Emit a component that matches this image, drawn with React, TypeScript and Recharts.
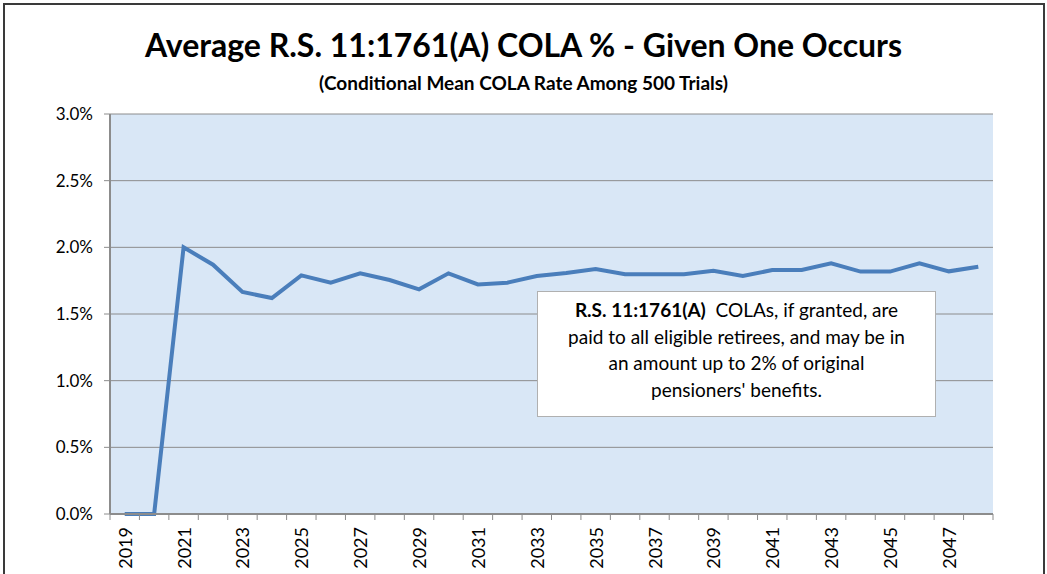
import { LineChart, Line, XAxis, YAxis, CartesianGrid } from 'recharts';

const years = [
  2019, 2020, 2021, 2022, 2023, 2024, 2025, 2026, 2027, 2028,
  2029, 2030, 2031, 2032, 2033, 2034, 2035, 2036, 2037, 2038,
  2039, 2040, 2041, 2042, 2043, 2044, 2045, 2046, 2047, 2048,
];

// conditional mean COLA rate, in percent
const colaRate = [
  0.0, 0.0, 2.0, 1.87, 1.665, 1.62, 1.79, 1.735, 1.805, 1.755,
  1.685, 1.805, 1.722, 1.735, 1.785, 1.808, 1.838, 1.798, 1.798, 1.798,
  1.825, 1.785, 1.83, 1.83, 1.88, 1.818, 1.818, 1.88, 1.82, 1.855,
];

const yTicks = [0, 0.5, 1.0, 1.5, 2.0, 2.5, 3.0];

const noteLines = [
  'paid to all eligible retirees, and may be in',
  'an amount up to 2% of original',
  "pensioners' benefits.",
];

const data = years.map((y, i) => ({ year: y, cola: colaRate[i] }));

const FONT = 'Lato, "Open Sans", sans-serif';
const PLOT_W = 883;
const BAND = PLOT_W / years.length;

function YearTick(props: any) {
  const { x, y, payload, index } = props;
  const year = Number(payload.value);
  const left = x - BAND / 2;
  return (
    <g>
      <line x1={left} y1={y} x2={left} y2={y + 6} stroke="#8c8c8c" strokeWidth={1} />
      {index === years.length - 1 && (
        <line x1={x + BAND / 2} y1={y} x2={x + BAND / 2} y2={y + 6} stroke="#8c8c8c" strokeWidth={1} />
      )}
      {year % 2 === 1 && (
        <text
          x={x}
          y={y + 13}
          transform={`rotate(-90, ${x}, ${y + 13})`}
          textAnchor="end"
          dominantBaseline="central"
          fontSize={18}
          fontFamily={FONT}
          fill="#000"
        >
          {year}
        </text>
      )}
    </g>
  );
}

export default function App() {
  return (
    <div
      style={{
        position: 'absolute',
        left: 0,
        top: 0,
        width: 1047,
        height: 574,
        overflow: 'hidden',
        background: '#fff',
        fontFamily: FONT,
      }}
    >
      <div
        style={{
          position: 'absolute',
          left: 3,
          top: 3,
          width: 1038,
          height: 620,
          border: '2px solid #3a3a3a',
        }}
      />
      <div
        style={{
          position: 'absolute',
          left: 0,
          width: 1047,
          top: 24,
          textAlign: 'center',
          fontSize: 32,
          fontWeight: 700,
          lineHeight: '42px',
        }}
      >
        Average R.S. 11:1761(A) COLA % - Given One Occurs
      </div>
      <div
        style={{
          position: 'absolute',
          left: 0,
          width: 1047,
          top: 71,
          textAlign: 'center',
          fontSize: 19,
          fontWeight: 700,
          lineHeight: '24px',
        }}
      >
        (Conditional Mean COLA Rate Among 500 Trials)
      </div>

      <div style={{ position: 'absolute', left: 0, top: 0 }}>
        <LineChart
          width={1047}
          height={574}
          data={data}
          margin={{ top: 114, right: 54, left: 0, bottom: 0 }}
        >
          <CartesianGrid vertical={false} fill="#d9e7f6" stroke="#8c8c8c" strokeWidth={1} />
          <XAxis
            dataKey="year"
            scale="band"
            interval={0}
            height={60}
            tickSize={0}
            tickMargin={0}
            tickLine={false}
            axisLine={{ stroke: '#8c8c8c', strokeWidth: 2 }}
            tick={<YearTick />}
          />
          <YAxis
            width={110}
            domain={[0, 3]}
            ticks={yTicks}
            interval={0}
            tickFormatter={(v: number) => `${v.toFixed(1)}%`}
            tick={{ fill: '#000', fontSize: 17, fontFamily: FONT }}
            tickSize={6}
            tickMargin={11}
            tickLine={{ stroke: '#8c8c8c' }}
            axisLine={{ stroke: '#8c8c8c', strokeWidth: 2 }}
          />
          <Line
            type="linear"
            dataKey="cola"
            stroke="#4a7ebb"
            strokeWidth={4}
            dot={false}
            activeDot={false}
            isAnimationActive={false}
          />
        </LineChart>
      </div>

      <div
        style={{
          position: 'absolute',
          left: 537,
          top: 291,
          width: 399,
          height: 126,
          background: '#fff',
          border: '1px solid #b0b0b0',
          boxSizing: 'border-box',
          textAlign: 'center',
          fontSize: 19,
          lineHeight: '26.5px',
          paddingTop: 5,
          color: '#000',
        }}
      >
        <div>
          <b>R.S. 11:1761(A)</b>&nbsp; COLAs, if granted, are
        </div>
        {noteLines.map((t) => (
          <div key={t}>{t}</div>
        ))}
      </div>
    </div>
  );
}
